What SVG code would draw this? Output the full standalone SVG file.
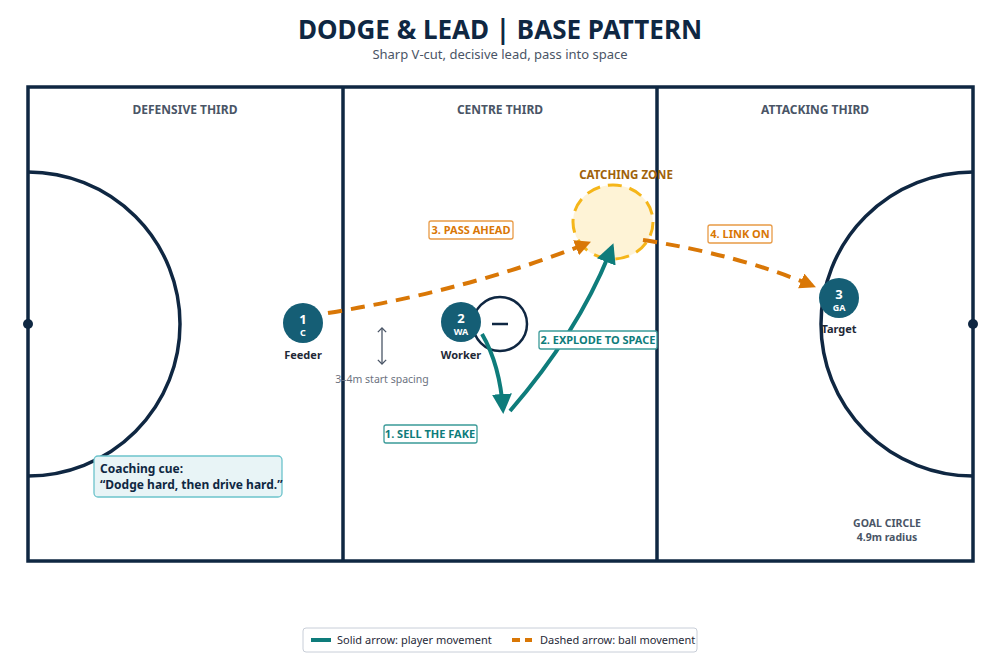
<svg xmlns="http://www.w3.org/2000/svg" width="1000" height="661" viewBox="0 0 1000 661">
<style>
text{font-family:"Noto Sans","Open Sans",sans-serif}
.line{fill:none;stroke:#0f2742;stroke-width:3.5}
.zone{font-size:12px;font-weight:bold;fill:#4a5566}
.pl{fill:#155e75}
.pn{fill:#fff;font-weight:bold;text-anchor:middle}
.lbl{font-size:11px;font-weight:bold;fill:#1f2937;text-anchor:middle}
.ball{fill:none;stroke:#d97706;stroke-width:4;stroke-dasharray:14 9}
.run{fill:none;stroke:#0e7c7b;stroke-width:4}
.tagO{fill:#fff;stroke:#e89a45;stroke-width:1.3}
.tagT{fill:#fff;stroke:#3a9a98;stroke-width:1.3}
.to{font-size:11px;font-weight:bold;fill:#d97706;text-anchor:middle}
.tt{font-size:11px;font-weight:bold;fill:#0e7c7b;text-anchor:middle}
</style>
<defs>
<marker id="ao" viewBox="0 0 10 10" refX="8" refY="5" markerWidth="4" markerHeight="4" orient="auto" markerUnits="strokeWidth"><path d="M0,0L10,5L0,10z" fill="#d97706"/></marker>
<marker id="at" viewBox="0 0 10 10" refX="8" refY="5" markerWidth="5" markerHeight="5" orient="auto" markerUnits="strokeWidth"><path d="M0,0L10,5L0,10z" fill="#0e7c7b"/></marker>
<marker id="ag" viewBox="0 0 10 10" refX="5" refY="5" markerWidth="8" markerHeight="8" orient="auto-start-reverse"><path d="M1,1L5,5L1,9" fill="none" stroke="#4a5566" stroke-width="1.2"/></marker>
</defs>
<rect width="1000" height="661" fill="#fff"/>
<text x="500" y="39" font-size="26" font-weight="bold" fill="#0f2742" text-anchor="middle">DODGE &amp; LEAD | BASE PATTERN</text>
<text x="500" y="59" font-size="13" fill="#4a5566" text-anchor="middle">Sharp V-cut, decisive lead, pass into space</text>
<g id="court">
<rect x="28" y="87" width="945" height="474" class="line"/>
<line x1="343" y1="87" x2="343" y2="561" class="line"/>
<line x1="657" y1="87" x2="657" y2="561" class="line"/>
<path d="M28,172 A152,152 0 0 1 28,476" class="line"/>
<path d="M973,172 A152,152 0 0 0 973,476" class="line"/>
<circle cx="28" cy="324" r="5" fill="#0f2742"/>
<circle cx="973" cy="324" r="5" fill="#0f2742"/>
<text x="185" y="114" class="zone" text-anchor="middle">DEFENSIVE THIRD</text>
<text x="500" y="114" class="zone" text-anchor="middle">CENTRE THIRD</text>
<text x="815" y="114" class="zone" text-anchor="middle">ATTACKING THIRD</text>
<text x="887" y="527" font-size="10.5" font-weight="bold" fill="#4a5566" text-anchor="middle">GOAL CIRCLE</text>
<text x="887" y="541" font-size="10.5" font-weight="bold" fill="#4a5566" text-anchor="middle">4.9m radius</text>
</g>
<g id="catching-zone">
<ellipse cx="613" cy="222" rx="40" ry="37" fill="#fef3d6" stroke="#f5b61a" stroke-width="3" stroke-dasharray="14 8"/>
<text x="626" y="179" font-size="11.5" font-weight="bold" fill="#a0620a" text-anchor="middle">CATCHING ZONE</text>
</g>
<g id="spacing">
<line x1="382" y1="328" x2="382" y2="364" stroke="#4a5566" stroke-width="1.3" marker-start="url(#ag)" marker-end="url(#ag)"/>
<text x="382" y="383" font-size="10.5" fill="#6b7280" text-anchor="middle">3–4m start spacing</text>
</g>
<g id="defender">
<circle cx="500" cy="324" r="27" fill="none" stroke="#0f2742" stroke-width="2.5"/>
<line x1="492" y1="324" x2="508" y2="324" stroke="#0f2742" stroke-width="2.5"/>
</g>
<g id="connectors">
<path d="M328,313 Q470,290 588,243" class="ball" marker-end="url(#ao)"/>
<path d="M643,240 Q740,255 813,286" class="ball" marker-end="url(#ao)"/>
<path d="M482,334 Q500,365 503,410" class="run" marker-end="url(#at)"/>
<path d="M510,411 Q580,330 612,247" class="run" marker-end="url(#at)"/>
</g>
<g id="node-c"><circle cx="303" cy="323" r="20" class="pl"/><text x="303" y="324" font-size="13" class="pn">1</text><text x="303" y="336" font-size="9" class="pn">C</text><text x="303" y="359" class="lbl">Feeder</text></g>
<g id="node-wa"><circle cx="461" cy="322" r="20" class="pl"/><text x="461" y="323" font-size="13" class="pn">2</text><text x="461" y="335" font-size="9" class="pn">WA</text><text x="461" y="359" class="lbl">Worker</text></g>
<g id="node-ga"><circle cx="839" cy="298" r="20" class="pl"/><text x="839" y="299" font-size="13" class="pn">3</text><text x="839" y="311" font-size="9" class="pn">GA</text><text x="839" y="333" class="lbl">Target</text></g>
<g id="tags">
<rect x="429" y="221" width="84" height="18" rx="2" class="tagO"/><text x="471" y="234" class="to">3. PASS AHEAD</text>
<rect x="708" y="225" width="64" height="18" rx="2" class="tagO"/><text x="740" y="238" class="to">4. LINK ON</text>
<rect x="539" y="331" width="118" height="18" rx="2" class="tagT"/><text x="598" y="344" class="tt">2. EXPLODE TO SPACE</text>
<rect x="384" y="425" width="93" height="18" rx="2" class="tagT"/><text x="430" y="438" class="tt">1. SELL THE FAKE</text>
</g>
<g id="cue">
<rect x="94" y="456" width="188" height="41" rx="4" fill="#e8f4f6" stroke="#6cc3cb" stroke-width="1.3"/>
<text x="100" y="473" font-size="12" font-weight="bold" fill="#0f2742">Coaching cue:</text>
<text x="100" y="489" font-size="12" font-weight="bold" fill="#0f2742">“Dodge hard, then drive hard.”</text>
</g>
<g id="legend">
<rect x="303" y="628" width="394" height="24" rx="3" fill="#fff" stroke="#c8ced8" stroke-width="1"/>
<line x1="311" y1="640" x2="331" y2="640" stroke="#0e7c7b" stroke-width="4"/>
<text x="337" y="644" font-size="11" fill="#1f2937">Solid arrow: player movement</text>
<line x1="512" y1="640" x2="532" y2="640" stroke="#d97706" stroke-width="4" stroke-dasharray="8 5"/>
<text x="540" y="644" font-size="11" fill="#1f2937">Dashed arrow: ball movement</text>
</g>
</svg>
